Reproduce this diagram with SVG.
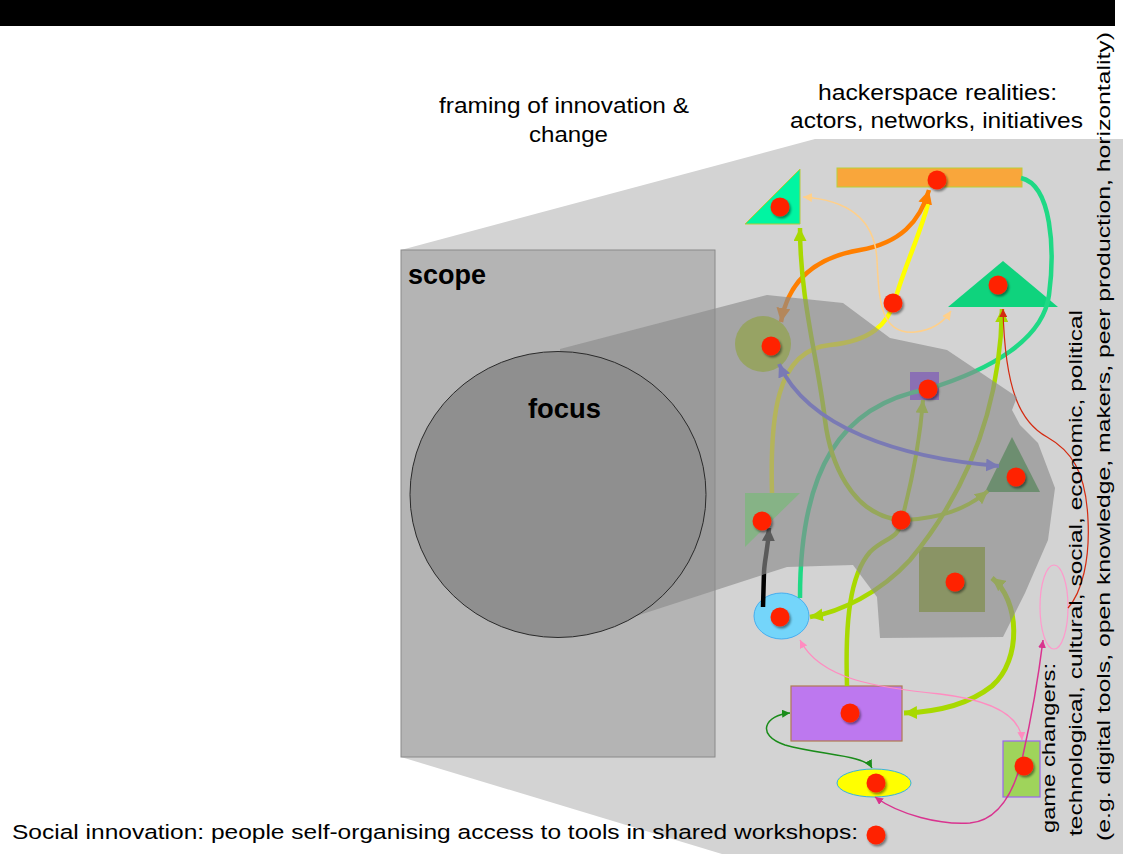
<svg xmlns="http://www.w3.org/2000/svg" width="1123" height="854" viewBox="0 0 1123 854">
<style>
text{font-family:"Liberation Sans",Arial,sans-serif;fill:#000}
.lbl{font-size:22.5px}
.big{font-size:28px;font-weight:bold}
.vt{font-size:18px}
.c{fill:none;stroke-linecap:butt}
.dot{fill:#ff2400;filter:url(#sh)}
</style>
<defs>
<filter id="sh" x="-50%" y="-50%" width="200%" height="200%"><feDropShadow dx="1.5" dy="2" stdDeviation="1.2" flood-color="#000" flood-opacity="0.45"/></filter>
<marker id="mOr" viewBox="0 0 10 10" refX="10" refY="5" markerWidth="14" markerHeight="14" markerUnits="userSpaceOnUse" orient="auto-start-reverse"><path d="M0,0L10,5L0,10z" fill="#ff7f00"/></marker>
<marker id="mYg" viewBox="0 0 10 10" refX="10" refY="5" markerWidth="13" markerHeight="13" markerUnits="userSpaceOnUse" orient="auto-start-reverse"><path d="M0,0L10,5L0,10z" fill="#a8d900"/></marker>
<marker id="mLo" viewBox="0 0 10 10" refX="10" refY="5" markerWidth="9" markerHeight="9" markerUnits="userSpaceOnUse" orient="auto-start-reverse"><path d="M0,0L10,5L0,10z" fill="#ffd08a"/></marker>
<marker id="mBl" viewBox="0 0 10 10" refX="10" refY="5" markerWidth="13" markerHeight="13" markerUnits="userSpaceOnUse" orient="auto-start-reverse"><path d="M0,0L10,5L0,10z" fill="#5a5aff"/></marker>
<marker id="mBk" viewBox="0 0 10 10" refX="10" refY="5" markerWidth="13" markerHeight="13" markerUnits="userSpaceOnUse" orient="auto-start-reverse"><path d="M0,0L10,5L0,10z" fill="#000"/></marker>
<marker id="mPk" viewBox="0 0 10 10" refX="10" refY="5" markerWidth="8" markerHeight="8" markerUnits="userSpaceOnUse" orient="auto-start-reverse"><path d="M0,0L10,5L0,10z" fill="#ff8cc0"/></marker>
<marker id="mDg" viewBox="0 0 10 10" refX="10" refY="5" markerWidth="8" markerHeight="8" markerUnits="userSpaceOnUse" orient="auto-start-reverse"><path d="M0,0L10,5L0,10z" fill="#1a8c1a"/></marker>
<marker id="mMg" viewBox="0 0 10 10" refX="10" refY="5" markerWidth="8" markerHeight="8" markerUnits="userSpaceOnUse" orient="auto-start-reverse"><path d="M0,0L10,5L0,10z" fill="#d9338f"/></marker>
<marker id="mRd" viewBox="0 0 10 10" refX="10" refY="5" markerWidth="8" markerHeight="8" markerUnits="userSpaceOnUse" orient="auto-start-reverse"><path d="M0,0L10,5L0,10z" fill="#d42a10"/></marker>
</defs>

<rect width="1123" height="854" fill="#fff"/>
<rect id="topbar" x="0" y="0" width="1115" height="26" fill="#000"/>

<g id="background">
<polygon points="401,250 815,139 1123,139 1123,854 722,854 401,757" fill="#d3d3d3"/>
<rect id="scope" x="401" y="250" width="314" height="507" fill="#b4b4b4" stroke="#8a8a8a" stroke-width="1"/>
</g>

<g id="nodes">
<g id="n-tri-top"><polygon points="745,224 800,169 800,224" fill="#00f5a2" stroke="#b5c93a" stroke-width="1"/></g>
<g id="n-orange-bar"><rect x="837" y="168" width="185" height="19" fill="#f9a63b" stroke="#b8cf3a" stroke-width="1"/></g>
<g id="n-tri-right"><polygon points="948,307 1003,261 1058,307" fill="#0fd37d"/></g>
<g id="n-olive-circle"><circle cx="763" cy="344" r="28" fill="#abce1a"/></g>
<g id="n-purple-square"><rect x="910" y="372" width="29" height="28" fill="#863cff"/></g>
<g id="n-dark-tri"><polygon points="1012,437 985,492 1040,492" fill="#36923c"/></g>
<g id="n-green-tri"><polygon points="745,493 800,493 745,547" fill="#7bfb7b"/></g>
<g id="n-olive-square"><rect x="919" y="547" width="66" height="65" fill="#86a31f"/></g>
<g id="n-blue-ellipse"><ellipse cx="781.5" cy="616" rx="27.5" ry="23" fill="#74d5fa" stroke="#45aef0" stroke-width="1"/></g>
<g id="n-purple-rect"><rect x="791" y="686" width="111" height="55" fill="#bd78ef" stroke="#b07a52" stroke-width="1.2"/></g>
<g id="n-yellow-ellipse"><ellipse cx="874" cy="783" rx="37" ry="14" fill="#ffff00" stroke="#35b2e2" stroke-width="1"/></g>
<g id="n-green-rect"><rect x="1003" y="741" width="37" height="56" fill="#9fd45b" stroke="#9966ee" stroke-width="1.2"/></g>
<g id="n-pink-ellipse"><ellipse cx="1054" cy="607" rx="14" ry="42" fill="none" stroke="#ff99cc" stroke-width="1.2"/></g>
</g>

<g id="connectors">
<path class="c" d="M772,493 C770,420 775,350 830,345 C870,341 888,325 895,300 C905,265 922,230 929,200" stroke="#ffff00" stroke-width="4.5"/>
<path class="c" d="M781,322 C790,270 830,255 860,250 C900,243 920,222 929,190" stroke="#ff7f00" stroke-width="4.5" marker-start="url(#mOr)" marker-end="url(#mOr)"/>
<path class="c" d="M803,197 C850,200 875,220 877,260 C879,300 880,335 915,332 C935,330 945,320 951,311" stroke="#ffd08a" stroke-width="1.5" marker-start="url(#mLo)" marker-end="url(#mLo)"/>
<path class="c" d="M1021,178 C1052,185 1055,250 1049,295 C1043,340 990,370 928,389 C840,405 800,470 800,598" stroke="#1fd985" stroke-width="4.5"/>
<path class="c" d="M901,520 C850,515 830,460 825,420 C818,360 800,300 800,228" stroke="#a8d900" stroke-width="4.5" marker-end="url(#mYg)"/>
<path class="c" d="M903,515 C912,480 920,440 923,400" stroke="#a8d900" stroke-width="4" marker-end="url(#mYg)"/>
<path class="c" d="M905,520 C940,518 965,510 988,491" stroke="#a8d900" stroke-width="4" marker-end="url(#mYg)"/>
<path class="c" d="M847,686 C845,620 850,575 870,552 C885,537 898,540 901,522" stroke="#a8d900" stroke-width="4.5"/>
<path class="c" d="M1002,309 C1000,420 960,500 910,560 C880,593 840,612 810,617" stroke="#a8d900" stroke-width="4.5" marker-start="url(#mYg)" marker-end="url(#mYg)"/>
<path class="c" d="M992,578 C1020,600 1022,660 992,686 C968,705 935,712 904,713" stroke="#a8d900" stroke-width="5" marker-start="url(#mYg)" marker-end="url(#mYg)"/>
<path class="c" d="M779,364 C808,428 900,458 999,466" stroke="#5a5aff" stroke-width="4" marker-start="url(#mBl)" marker-end="url(#mBl)"/>
<path class="c" d="M763,607 L764,572 C765,556 768,550 769,528" stroke="#000" stroke-width="4.5" marker-end="url(#mBk)"/>
<path class="c" d="M800,640 C820,680 880,688 940,694 C990,700 1020,715 1022,740" stroke="#ff8cc0" stroke-width="1.3" marker-start="url(#mPk)" marker-end="url(#mPk)"/>
<path class="c" d="M790,713 C765,715 755,735 785,745 C820,755 865,755 872,768" stroke="#1a8c1a" stroke-width="1.5" marker-start="url(#mDg)" marker-end="url(#mDg)"/>
<path class="c" d="M875,797 C900,815 940,825 970,823 C1000,820 1015,790 1023,755 C1032,715 1038,680 1043,640" stroke="#d9338f" stroke-width="1.5" marker-start="url(#mMg)" marker-end="url(#mMg)"/>
<path class="c" d="M1068,608 C1082,592 1090,560 1088,520 C1086,470 1070,450 1047,437 C1020,422 1005,390 1003,309" stroke="#d42a10" stroke-width="1.2" marker-end="url(#mRd)"/>
</g>

<g id="focus-projection">
<polygon points="560,349 767,295 843,303 890,338 947,350 1017,397 1012,410 1020,425 1038,443 1055,488 1048,540 1025,593 1003,637 880,638 877,597 853,565 787,567 633,617 560,620" fill="#8c8c8c" fill-opacity="0.65"/>
</g>
<g id="focus">
<ellipse cx="558" cy="494.5" rx="148" ry="143" fill="#8f8f8f" stroke="#2a2a2a" stroke-width="1"/>
</g>

<g id="workshop-dots">
<circle class="dot" cx="780" cy="207" r="9.5"/>
<circle class="dot" cx="937" cy="180" r="9.5"/>
<circle class="dot" cx="998" cy="285" r="9.5"/>
<circle class="dot" cx="771" cy="346" r="9.5"/>
<circle class="dot" cx="893" cy="303" r="9.5"/>
<circle class="dot" cx="928" cy="389" r="9.5"/>
<circle class="dot" cx="1016" cy="477" r="9.5"/>
<circle class="dot" cx="762" cy="521" r="9.5"/>
<circle class="dot" cx="901" cy="520" r="9.5"/>
<circle class="dot" cx="955" cy="582" r="9.5"/>
<circle class="dot" cx="780" cy="617" r="9.5"/>
<circle class="dot" cx="850" cy="713" r="9.5"/>
<circle class="dot" cx="876" cy="783" r="9.5"/>
<circle class="dot" cx="1024" cy="766" r="9.5"/>
<circle class="dot" cx="876" cy="835" r="9.5"/>
</g>

<g id="labels">
<text class="big" x="408" y="284" textLength="78" lengthAdjust="spacingAndGlyphs">scope</text>
<text class="big" x="528" y="418" textLength="73" lengthAdjust="spacingAndGlyphs">focus</text>
<text class="lbl" x="439" y="113" textLength="250" lengthAdjust="spacingAndGlyphs">framing of innovation &amp;</text>
<text class="lbl" x="529" y="142" textLength="79" lengthAdjust="spacingAndGlyphs">change</text>
<text class="lbl" x="818" y="100" textLength="239" lengthAdjust="spacingAndGlyphs">hackerspace realities:</text>
<text class="lbl" x="790" y="128" textLength="293" lengthAdjust="spacingAndGlyphs">actors, networks, initiatives</text>
<text style="font-size:20.5px" x="12" y="839" textLength="846" lengthAdjust="spacingAndGlyphs">Social innovation: people self-organising access to tools in shared workshops:</text>
<text class="vt" transform="translate(1055,833) rotate(-90)" textLength="170" lengthAdjust="spacingAndGlyphs">game changers:</text>
<text class="vt" transform="translate(1082,836) rotate(-90)" textLength="526" lengthAdjust="spacingAndGlyphs">technological, cultural, social, economic, political</text>
<text class="vt" transform="translate(1110,841) rotate(-90)" textLength="809" lengthAdjust="spacingAndGlyphs">(e.g. digital tools, open knowledge, makers, peer production, horizontality)</text>
</g>
</svg>
